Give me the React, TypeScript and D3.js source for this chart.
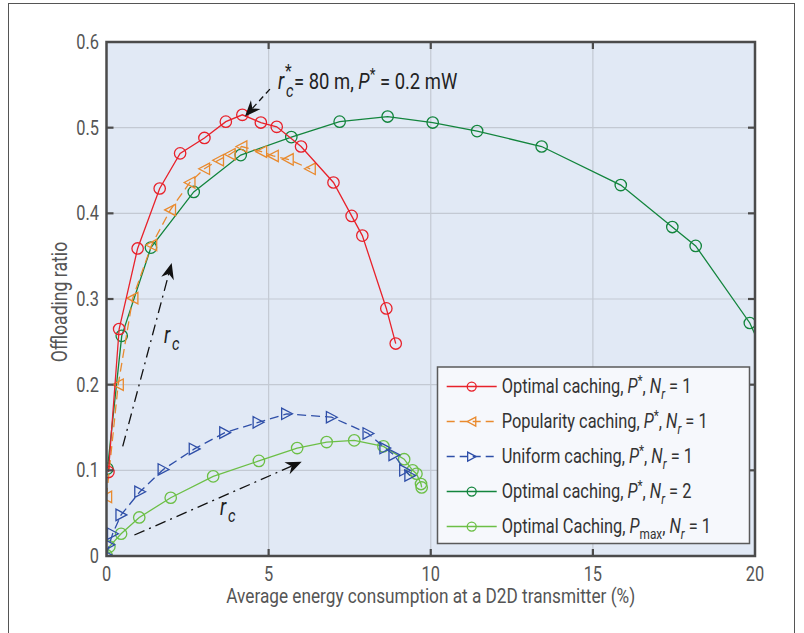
import React from "react"
import * as d3 from "d3"

// Optimal caching, P*, Nr = 1
const optX = [0.06, 0.39, 0.96, 1.64, 2.27, 3.02, 3.68, 4.19, 4.76, 5.25, 6.0, 7.0, 7.56, 7.89, 8.63, 8.92]
const optY = [0.098, 0.265, 0.359, 0.429, 0.47, 0.488, 0.507, 0.515, 0.506, 0.501, 0.478, 0.436, 0.397, 0.374, 0.289, 0.248]

// Popularity caching, P*, Nr = 1
const popX = [0.0, 0.36, 0.81, 1.39, 1.97, 2.57, 3.02, 3.45, 3.81, 4.17, 4.78, 5.14, 5.6, 6.28]
const popY = [0.069, 0.2, 0.301, 0.363, 0.404, 0.436, 0.452, 0.462, 0.469, 0.478, 0.472, 0.467, 0.463, 0.452]

// Uniform caching, P*, Nr = 1
const uniX = [0.0, 0.08, 0.19, 0.45, 1.03, 1.75, 2.71, 3.65, 4.68, 5.56, 6.94, 8.07, 8.59, 8.87, 9.2, 9.36]
const uniY = [0.001, 0.013, 0.026, 0.048, 0.075, 0.101, 0.125, 0.144, 0.156, 0.166, 0.162, 0.143, 0.126, 0.118, 0.1, 0.094]

// Optimal caching, P*, Nr = 2
const opt2X = [0.03, 0.47, 1.37, 2.69, 4.14, 5.7, 7.19, 8.67, 10.06, 11.43, 13.42, 15.86, 17.45, 18.17, 19.84, 20.4]
const opt2Y = [0.102, 0.257, 0.36, 0.425, 0.468, 0.489, 0.507, 0.513, 0.506, 0.496, 0.478, 0.433, 0.384, 0.362, 0.272, 0.225]

// Optimal Caching, Pmax, Nr = 1
const maxX = [0.0, 0.09, 0.45, 1.01, 1.98, 3.29, 4.7, 5.88, 6.79, 7.64, 8.54, 9.18, 9.44, 9.56, 9.7, 9.72]
const maxY = [0.001, 0.011, 0.026, 0.045, 0.068, 0.093, 0.111, 0.126, 0.133, 0.135, 0.128, 0.113, 0.1, 0.096, 0.084, 0.08]

const xTicks = [0, 5, 10, 15, 20]
const yTicks = [0, 0.1, 0.2, 0.3, 0.4, 0.5, 0.6]

// annotation arrows in data units: [x1, y1, x2, y2]
const arrowUp = [0.5, 0.128, 2.01, 0.342]
const arrowRight = [0.86, 0.0245, 6.02, 0.11]
const arrowTop = [5.04, 0.545, 4.27, 0.513]

const FONT = "Roboto, 'Noto Sans', sans-serif"
const SX = 0.82 // the original face is a condensed one

type Seg = { t: string; i?: boolean; s?: "sub" | "sup" }

const legendItems: { name: string; color: string; dash?: string; marker: string; segs: Seg[] }[] = [
  {
    name: "opt", color: "#e8222b", marker: "circle",
    segs: [{ t: "Optimal caching, " }, { t: "P", i: true }, { t: "*", s: "sup" }, { t: ", " }, { t: "N", i: true }, { t: "r", i: true, s: "sub" }, { t: " = 1" }],
  },
  {
    name: "pop", color: "#e98a2e", dash: "9,5", marker: "left",
    segs: [{ t: "Popularity caching, " }, { t: "P", i: true }, { t: "*", s: "sup" }, { t: ", " }, { t: "N", i: true }, { t: "r", i: true, s: "sub" }, { t: " = 1" }],
  },
  {
    name: "uni", color: "#2f4fa8", dash: "9,5", marker: "right",
    segs: [{ t: "Uniform caching, " }, { t: "P", i: true }, { t: "*", s: "sup" }, { t: ", " }, { t: "N", i: true }, { t: "r", i: true, s: "sub" }, { t: " = 1" }],
  },
  {
    name: "opt2", color: "#13853d", marker: "circle",
    segs: [{ t: "Optimal caching, " }, { t: "P", i: true }, { t: "*", s: "sup" }, { t: ", " }, { t: "N", i: true }, { t: "r", i: true, s: "sub" }, { t: " = 2" }],
  },
  {
    name: "max", color: "#6cbf46", marker: "circle",
    segs: [{ t: "Optimal Caching, " }, { t: "P", i: true }, { t: "max", s: "sub" }, { t: ", " }, { t: "N", i: true }, { t: "r", i: true, s: "sub" }, { t: " = 1" }],
  },
]

const seriesData: Record<string, [number[], number[]]> = {
  opt: [optX, optY],
  pop: [popX, popY],
  uni: [uniX, uniY],
  opt2: [opt2X, opt2Y],
  max: [maxX, maxY],
}

const Rich = ({ x, y, segs, size, fill }: { x: number; y: number; segs: Seg[]; size: number; fill: string }) => {
  let cur = 0
  return (
    <g transform={`translate(${x},${y}) scale(${SX},1)`}>
      <text x={0} y={0} fontSize={size} fill={fill} fontFamily={FONT}>
        {segs.map((g, k) => {
          const target = g.s === "sub" ? size * 0.28 : g.s === "sup" ? -size * 0.38 : 0
          const dy = target - cur
          cur = target
          return (
            <tspan key={k} dy={dy} fontStyle={g.i ? "italic" : undefined} fontSize={g.s ? size * 0.72 : undefined}>
              {g.t}
            </tspan>
          )
        })}
      </text>
    </g>
  )
}

const Label = ({ x, y, size, fill, anchor, rotate, italic, children }: any) => (
  <g transform={`translate(${x},${y})${rotate ? ` rotate(${rotate})` : ""} scale(${SX},1)`}>
    <text x={0} y={0} fontSize={size} fill={fill} textAnchor={anchor} fontStyle={italic ? "italic" : undefined} fontFamily={FONT}>
      {children}
    </text>
  </g>
)

const Marker = ({ kind, x, y, color, r }: { kind: string; x: number; y: number; color: string; r: number }) => {
  if (kind === "circle") return <circle cx={x} cy={y} r={r} fill="none" stroke={color} strokeWidth={1.3} />
  const d =
    kind === "left"
      ? `M${x - r},${y} L${x + r * 0.9},${y - r} L${x + r * 0.9},${y + r} Z`
      : `M${x + r},${y} L${x - r * 0.9},${y - r} L${x - r * 0.9},${y + r} Z`
  return <path d={d} fill="none" stroke={color} strokeWidth={1.3} strokeLinejoin="miter" />
}

const App = () => {
  const x = d3.scaleLinear().domain([0, 20]).range([106.5, 755])
  const y = d3.scaleLinear().domain([0, 0.6]).range([556, 42])
  const [x0, x1] = x.range()
  const [y0, y1] = y.range()

  const line = d3
    .line<[number, number]>()
    .x((d) => x(d[0]))
    .y((d) => y(d[1]))

  const arrow = (a: number[], dash: string, key: string) => {
    const px1 = x(a[0]), py1 = y(a[1]), px2 = x(a[2]), py2 = y(a[3])
    const ang = Math.atan2(py2 - py1, px2 - px1)
    const L = 16, W = 6.5, N = 11
    const cos = Math.cos(ang), sin = Math.sin(ang)
    const pt = (along: number, side: number) => `${px2 - along * cos - side * sin},${py2 - along * sin + side * cos}`
    return (
      <g key={key}>
        <line x1={px1} y1={py1} x2={px2 - N * cos} y2={py2 - N * sin} stroke="#111" strokeWidth={1.3} strokeDasharray={dash} />
        <path d={`M${pt(0, 0)} L${pt(L, W)} L${pt(N, 0)} L${pt(L, -W)} Z`} fill="#111" />
      </g>
    )
  }

  return (
    <svg width={804} height={633} style={{ position: "absolute", left: 0, top: 0, background: "#fff" }}>
      <defs>
        <clipPath id="plot-clip">
          <rect x={x0} y={y1} width={x1 - x0} height={y0 - y1} />
        </clipPath>
      </defs>
      <rect x={8.5} y={3.5} width={786} height={640} fill="none" stroke="#555" strokeWidth={1} />

      <rect x={x0} y={y1} width={x1 - x0} height={y0 - y1} fill="#e1e9f5" />
      {xTicks.slice(1, -1).map((t) => (
        <line key={"gx" + t} x1={x(t)} x2={x(t)} y1={y1} y2={y0} stroke="#c3c9d3" strokeWidth={1.2} />
      ))}
      {yTicks.slice(1, -1).map((t) => (
        <line key={"gy" + t} x1={x0} x2={x1} y1={y(t)} y2={y(t)} stroke="#c3c9d3" strokeWidth={1.2} />
      ))}

      <g clipPath="url(#plot-clip)">
        {legendItems
          .slice()
          .reverse()
          .map((it) => {
            const [xs, ys] = seriesData[it.name]
            const pts = xs.map((v, i) => [v, ys[i]] as [number, number])
            return (
              <g key={it.name}>
                <path d={line(pts) || ""} fill="none" stroke={it.color} strokeWidth={1.3} strokeDasharray={it.dash} />
                {pts.map((p, i) => (
                  <Marker key={i} kind={it.marker} x={x(p[0])} y={y(p[1])} color={it.color} r={5.7} />
                ))}
              </g>
            )
          })}
      </g>

      {arrow(arrowUp, "11,5,2,5", "a1")}
      {arrow(arrowRight, "11,5,2,5", "a2")}
      {arrow(arrowTop, "6,4", "a3")}

      <Label x={164} y={343} size={23} fill="#222" italic>r</Label>
      <Label x={172} y={350} size={18} fill="#222" italic>c</Label>
      <Label x={220} y={515} size={23} fill="#222" italic>r</Label>
      <Label x={228} y={522} size={18} fill="#222" italic>c</Label>

      <Label x={278} y={89} size={23} fill="#222" italic>r</Label>
      <Label x={285} y={77} size={19} fill="#222">*</Label>
      <Label x={286} y={97} size={18} fill="#222" italic>c</Label>
      <Rich
        x={294}
        y={89}
        size={22.5}
        fill="#222"
        segs={[{ t: " = 80 m, " }, { t: "P", i: true }, { t: "*", s: "sup" }, { t: " = 0.2 mW" }]}
      />

      <rect x={x0} y={y1} width={x1 - x0} height={y0 - y1} fill="none" stroke="#4b4b4b" strokeWidth={2.5} />
      {xTicks.slice(1, -1).map((t) => (
        <g key={"tx" + t}>
          <line x1={x(t)} x2={x(t)} y1={y0} y2={y0 - 7} stroke="#4b4b4b" strokeWidth={2.2} />
          <line x1={x(t)} x2={x(t)} y1={y1} y2={y1 + 7} stroke="#4b4b4b" strokeWidth={2.2} />
        </g>
      ))}
      {yTicks.slice(1, -1).map((t) => (
        <g key={"ty" + t}>
          <line x1={x0} x2={x0 + 7} y1={y(t)} y2={y(t)} stroke="#4b4b4b" strokeWidth={2.2} />
          <line x1={x1} x2={x1 - 7} y1={y(t)} y2={y(t)} stroke="#4b4b4b" strokeWidth={2.2} />
        </g>
      ))}

      {xTicks.map((t) => (
        <Label key={"lx" + t} x={x(t)} y={581} size={20} fill="#555" anchor="middle">
          {t}
        </Label>
      ))}
      {yTicks.map((t) => (
        <Label key={"ly" + t} x={99} y={y(t) + 7} size={20} fill="#555" anchor="end">
          {t === 0 ? "0" : t.toFixed(1)}
        </Label>
      ))}
      <Label x={(x0 + x1) / 2} y={603} size={21} fill="#555" anchor="middle">
        Average energy consumption at a D2D transmitter (%)
      </Label>
      <Label x={67} y={302} size={21.5} fill="#555" anchor="middle" rotate={-90}>
        Offloading ratio
      </Label>

      <g>
        <rect x={437.5} y={367} width={312} height={176.5} fill="#f6f8fc" stroke="#5a5a5a" strokeWidth={1.5} />
        {legendItems.map((it, i) => {
          const by = 393.3 + i * 35
          const ly = by - 6.7
          return (
            <g key={"lg" + it.name}>
              <line x1={446.7} x2={496.7} y1={ly} y2={ly} stroke={it.color} strokeWidth={1.5} strokeDasharray={it.dash ? "8,5" : undefined} />
              <Marker kind={it.marker} x={471.7} y={ly} color={it.color} r={4.5} />
              <Rich x={501.7} y={by} size={20} fill="#333" segs={it.segs} />
            </g>
          )
        })}
      </g>
    </svg>
  )
}

export default App
